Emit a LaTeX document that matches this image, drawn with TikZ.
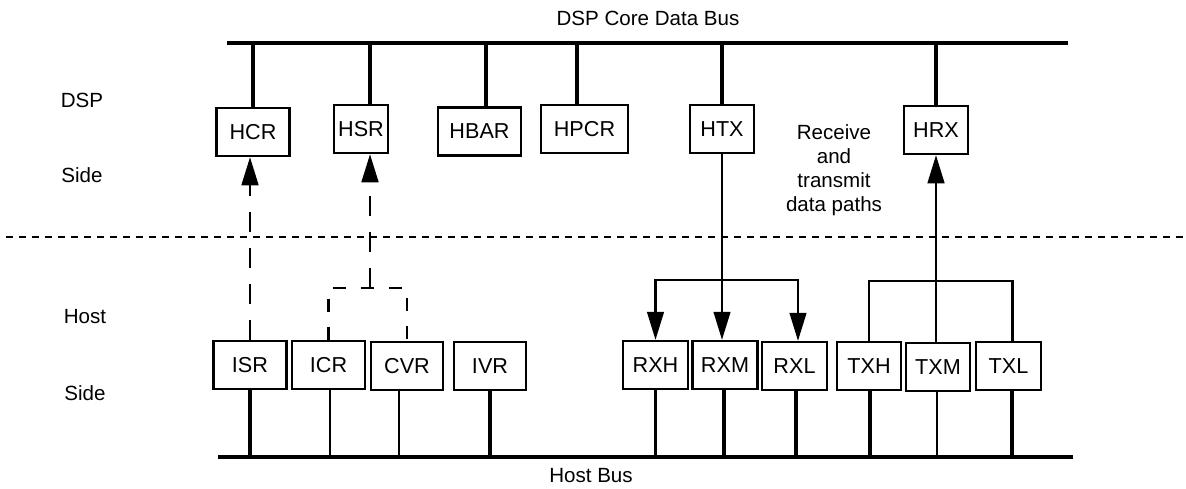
\documentclass[tikz,border=0pt]{standalone}
\usepackage{fontspec}
\setmainfont{Liberation Sans}
\usetikzlibrary{arrows.meta}
\begin{document}
\begin{tikzpicture}[x=0.02cm,y=-0.02cm,
  reg/.style={draw, line width=1.3pt, minimum height=0.96cm, inner sep=0pt,
              font=\fontsize{12.3}{14}\selectfont},
  bw/.style={minimum width=#1*0.02cm},
  lbl/.style={font=\fontsize{11.7}{13.6}\selectfont, align=center, inner sep=0pt},
  bus/.style={line width=2.2pt},
  drop/.style={line width=2pt},
  thindrop/.style={line width=1pt},
  link/.style={line width=1.3pt},
  arr/.style={-{Triangle[length=16pt,width=9.5pt]}},
  ldash/.style={line width=1.5pt, dash pattern=on 11.5pt off 9pt},
  sdash/.style={line width=1.5pt, dash pattern=on 7.5pt off 8.5pt},
  divider/.style={line width=1.3pt, dash pattern=on 4pt off 3.4pt}]
\useasboundingbox (0,0) rectangle (1186,488);

% buses
\coordinate (dbL) at (227,43);
\coordinate (dbR) at (1068,43);
\coordinate (hbL) at (218,457);
\coordinate (hbR) at (1073,457);
\draw[bus] (dbL) -- (dbR);
\draw[bus] (hbL) -- (hbR);

% divider
\coordinate (dvL) at (6,237);
\coordinate (dvR) at (1186,237);
\draw[divider] (dvL) -- (dvR);

% labels
\node[lbl] (tdsp) at (648,18) {DSP Core Data Bus};
\node[lbl] (thost) at (591,476) {Host Bus};
\node[lbl] (ldsp) at (82,100) {DSP};
\node[lbl] (lside1) at (82,175) {Side};
\node[lbl] (lhost) at (85,317) {Host};
\node[lbl] (lside2) at (85,393) {Side};
\node[lbl] (lrt) at (834,170) {Receive\\and\\transmit\\data paths};

% DSP side registers
\node[reg,bw=73] (HCR)  at (253,132)   {HCR};
\node[reg,bw=54] (HSR)  at (361,129)   {HSR};
\node[reg,bw=83] (HBAR) at (479.5,131.5) {HBAR};
\node[reg,bw=87] (HPCR) at (584.5,129) {HPCR};
\node[reg,bw=64] (HTX)  at (722,129)   {HTX};
\node[reg,bw=64] (HRX)  at (936,130)   {HRX};

% Host side registers
\node[reg,bw=73] (ISR) at (250,365)    {ISR};
\node[reg,bw=73] (ICR) at (328.5,365)  {ICR};
\node[reg,bw=72] (CVR) at (407,366)    {CVR};
\node[reg,bw=72] (IVR) at (490,366)    {IVR};
\node[reg,bw=65] (RXH) at (655.5,365)  {RXH};
\node[reg,bw=65] (RXM) at (725,365)    {RXM};
\node[reg,bw=65] (RXL) at (794.5,366)  {RXL};
\node[reg,bw=64] (TXH) at (869,366)    {TXH};
\node[reg,bw=64] (TXM) at (938,367)    {TXM};
\node[reg,bw=65] (TXL) at (1008.5,366) {TXL};

% drops to DSP core data bus
\draw[drop] (HCR.north) -- (HCR.north |- dbL);
\draw[drop] (HSR.north) ++(9,0) coordinate (d2) -- (d2 |- dbL);
\draw[drop] (HBAR.north) ++(6.5,0) coordinate (d3) -- (d3 |- dbL);
\draw[drop] (HPCR.north) ++(-7.5,0) coordinate (d4) -- (d4 |- dbL);
\draw[drop] (HTX.north) -- (HTX.north |- dbL);
\draw[drop] (HRX.north) -- (HRX.north |- dbL);

% drops to host bus
\draw[drop] (ISR.south) -- (ISR.south |- hbL);
\draw[thindrop] (ICR.south) ++(1.5,0) coordinate (h2) -- (h2 |- hbL);
\draw[thindrop] (CVR.south) ++(-8,0) coordinate (h3) -- (h3 |- hbL);
\draw[drop] (IVR.south) -- (IVR.south |- hbL);
\draw[drop] (RXH.south) -- (RXH.south |- hbL);
\draw[drop] (RXM.south) ++(-1,0) coordinate (h6) -- (h6 |- hbL);
\draw[drop] (RXL.south) ++(1.5,0) coordinate (h7) -- (h7 |- hbL);
\draw[drop] (TXH.south) ++(1,0) coordinate (h8) -- (h8 |- hbL);
\draw[thindrop] (TXM.south) ++(-1,0) coordinate (h9) -- (h9 |- hbL);
\draw[drop] (TXL.south) ++(3.5,0) coordinate (h10) -- (h10 |- hbL);

% control paths (dashed)
\draw[ldash,arr] (ISR.north) -- (ISR.north |- HCR.south);
\coordinate (hsb) at (370,288);
\draw[ldash,arr] (hsb) -- (hsb |- HSR.south);
\draw[sdash] (ICR.north) |- (hsb) -| (CVR.north);

% receive data path
\coordinate (rxb) at (722,280);
\draw[link,arr] (HTX.south) -- (HTX.south |- RXM.north);
\draw[link,arr] (rxb) -| (RXH.north);
\draw[link,arr] (rxb) -| ([xshift=0.07cm]RXL.north);

% transmit data path
\coordinate (txb) at (936,281);
\draw[link] (TXH.north) |- (txb) -| ([xshift=0.08cm]TXL.north);
\draw[link,arr] (HRX.south |- TXM.north) -- (HRX.south);
\end{tikzpicture}
\end{document}
